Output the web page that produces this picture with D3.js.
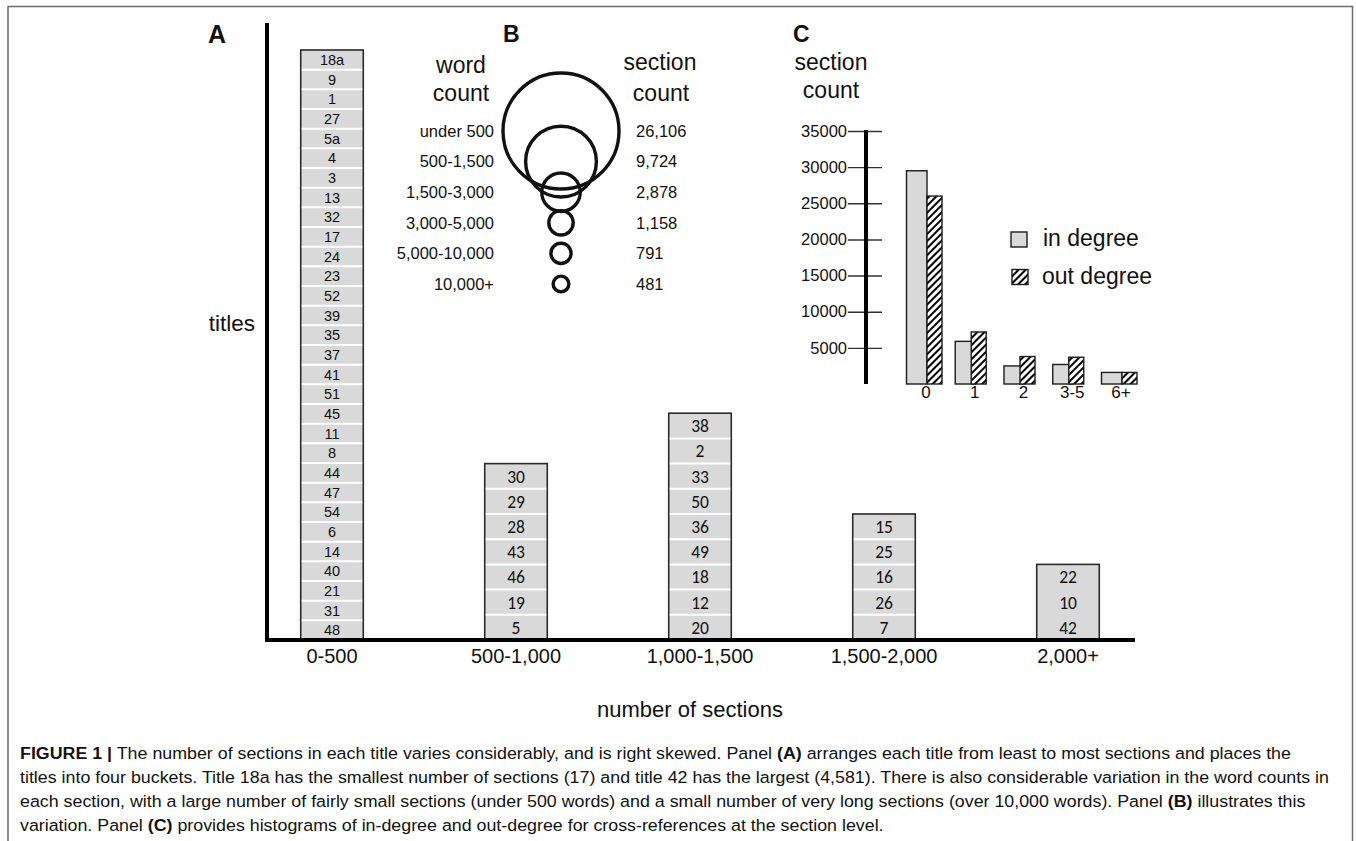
<!DOCTYPE html>
<html>
<head>
<meta charset="utf-8">
<script src="https://cdn.jsdelivr.net/npm/d3@7"></script>
<style>
  body { margin: 0; background: #fff; }
  svg text { font-family: "Liberation Sans", Arial, sans-serif; fill: #111; }
</style>
</head>
<body>
<div id="chart"></div>
<script>
// ---- panel A: titles per bucket of section counts (top of stack first)
const buckets = ['0-500', '500-1,000', '1,000-1,500', '1,500-2,000', '2,000+'];
const bucketTitles = [
  ['18a', '9', '1', '27', '5a', '4', '3', '13', '32', '17', '24', '23', '52', '39', '35',
   '37', '41', '51', '45', '11', '8', '44', '47', '54', '6', '14', '40', '21', '31', '48'],
  ['30', '29', '28', '43', '46', '19', '5'],
  ['38', '2', '33', '50', '36', '49', '18', '12', '20'],
  ['15', '25', '16', '26', '7'],
  ['22', '10', '42']
];

// ---- panel B: word count bins and section counts
const wordBins = ['under 500', '500-1,500', '1,500-3,000', '3,000-5,000', '5,000-10,000', '10,000+'];
const sectionCounts = [26106, 9724, 2878, 1158, 791, 481];

// ---- panel C: in / out degree histogram
const degreeBins = ['0', '1', '2', '3-5', '6+'];
const inDegree = [29500, 5900, 2500, 2700, 1600];
const outDegree = [26000, 7200, 3800, 3700, 1600];
const degreeTicks = [5000, 10000, 15000, 20000, 25000, 30000, 35000];

// ---- caption, one entry per printed line: [text, bold]
const captionLines = [
  [['FIGURE 1 |', true], [' The number of sections in each title varies considerably, and is right skewed. Panel ', false], ['(A)', true], [' arranges each title from least to most sections and places the', false]],
  [['titles into four buckets. Title 18a has the smallest number of sections (17) and title 42 has the largest (4,581). There is also considerable variation in the word counts in', false]],
  [['each section, with a large number of fairly small sections (under 500 words) and a small number of very long sections (over 10,000 words). Panel ', false], ['(B)', true], [' illustrates this', false]],
  [['variation. Panel ', false], ['(C)', true], [' provides histograms of in-degree and out-degree for cross-references at the section level.', false]]
];

const grey = '#d9d9d9';
const ink = '#1c1c1c';

const svg = d3.select('#chart').append('svg').attr('width', 1356).attr('height', 841);

// hatch for out degree
const defs = svg.append('defs');
const hatch = defs.append('pattern')
  .attr('id', 'hatch')
  .attr('patternUnits', 'userSpaceOnUse')
  .attr('width', 5).attr('height', 5)
  .attr('patternTransform', 'rotate(45)');
hatch.append('rect').attr('width', 5).attr('height', 5).attr('fill', '#fff');
hatch.append('line').attr('x1', 1).attr('y1', 0).attr('x2', 1).attr('y2', 5)
  .attr('stroke', '#000').attr('stroke-width', 2);

// frame (open at bottom)
svg.append('path')
  .attr('d', 'M8,845V6.5H1352.5V845')
  .attr('fill', 'none').attr('stroke', '#6b6b6b').attr('stroke-width', 1.5);

// ================= PANEL A =================
const baseY = 640;
const xA = d3.scaleBand().domain(buckets).range([240, 1160]).paddingInner(0.66).paddingOuter(0.33);
const rowH = i => i === 0 ? (baseY - 50) / bucketTitles[0].length : 25.2;
const separated = [true, true, true, true, false];

const gA = svg.append('g');
bucketTitles.forEach((titles, i) => {
  const n = titles.length;
  const yb = d3.scaleBand().domain(titles).range([baseY - n * rowH(i), baseY]);
  const x0 = xA(buckets[i]);
  const bw = xA.bandwidth();
  const g = gA.append('g');
  g.append('rect')
    .attr('x', x0).attr('y', yb.range()[0])
    .attr('width', bw).attr('height', n * rowH(i))
    .attr('fill', grey).attr('stroke', '#2a2a2a').attr('stroke-width', 1.6);
  if (separated[i]) {
    g.selectAll('line.sep')
      .data(titles.slice(1))
      .join('line')
      .attr('class', 'sep')
      .attr('x1', x0 + 1).attr('x2', x0 + bw - 1)
      .attr('y1', d => yb(d)).attr('y2', d => yb(d))
      .attr('stroke', '#fff').attr('stroke-width', 2);
  }
  g.selectAll('text')
    .data(titles)
    .join('text')
    .attr('x', x0 + bw / 2)
    .attr('y', d => yb(d) + yb.bandwidth() / 2)
    .attr('dy', '0.36em')
    .attr('text-anchor', 'middle')
    .style('font-family', i === 0 ? '"Liberation Sans", Arial, sans-serif' : 'Carlito, Lato, sans-serif')
    .style('font-size', i === 0 ? '14.5px' : '17.5px')
    .text(d => d);
});

// axes of A
svg.append('line').attr('x1', 267).attr('x2', 267).attr('y1', 23).attr('y2', 642)
  .attr('stroke', '#000').attr('stroke-width', 4);
svg.append('line').attr('x1', 265).attr('x2', 1135).attr('y1', baseY).attr('y2', baseY)
  .attr('stroke', '#000').attr('stroke-width', 4);

const axA = svg.append('g')
  .attr('transform', `translate(0,${baseY})`)
  .call(d3.axisBottom(xA).tickSize(0).tickPadding(9));
axA.select('.domain').remove();
axA.selectAll('text')
  .style('font-size', '20px')
  .style('font-family', '"Liberation Sans", Arial, sans-serif')
  .attr('fill', '#111');

svg.append('text').attr('x', 690).attr('y', 717).attr('text-anchor', 'middle')
  .style('font-size', '22px').text('number of sections');
svg.append('text').attr('x', 232).attr('y', 331).attr('text-anchor', 'middle')
  .style('font-size', '22.5px').text('titles');
svg.append('text').attr('x', 208).attr('y', 43)
  .style('font-size', '25px').style('font-weight', 'bold').text('A');

// ================= PANEL B =================
const yB = d3.scalePoint().domain(wordBins).range([131, 284]);
const rB = d3.scaleSqrt().domain([0, d3.max(sectionCounts)]).range([0, 58]);
const cxB = 561;

svg.append('text').attr('x', 503).attr('y', 42)
  .style('font-size', '23px').style('font-weight', 'bold').text('B');
svg.append('text').attr('x', 461).attr('y', 73).attr('text-anchor', 'middle')
  .style('font-size', '23px').text('word');
svg.append('text').attr('x', 461).attr('y', 101).attr('text-anchor', 'middle')
  .style('font-size', '23px').text('count');
svg.append('text').attr('x', 660).attr('y', 70).attr('text-anchor', 'middle')
  .style('font-size', '23px').text('section');
svg.append('text').attr('x', 661).attr('y', 101).attr('text-anchor', 'middle')
  .style('font-size', '23px').text('count');

const gB = svg.append('g');
gB.selectAll('circle')
  .data(wordBins)
  .join('circle')
  .attr('cx', cxB)
  .attr('cy', d => yB(d))
  .attr('r', (d, i) => rB(sectionCounts[i]))
  .attr('fill', 'none').attr('stroke', '#111').attr('stroke-width', 3.4);
gB.selectAll('text.bin')
  .data(wordBins)
  .join('text')
  .attr('class', 'bin')
  .attr('x', 494).attr('y', d => yB(d)).attr('dy', '0.35em')
  .attr('text-anchor', 'end')
  .style('font-size', '16.5px')
  .text(d => d);
gB.selectAll('text.cnt')
  .data(sectionCounts)
  .join('text')
  .attr('class', 'cnt')
  .attr('x', 636).attr('y', (d, i) => yB(wordBins[i])).attr('dy', '0.35em')
  .style('font-size', '16.5px')
  .text(d => d3.format(',')(d));

// ================= PANEL C =================
const yC = d3.scaleLinear().domain([0, 35000]).range([384, 131]);
const xC = d3.scalePoint().domain(degreeBins).range([927, 1122]);
const axisX = 866;

svg.append('text').attr('x', 793).attr('y', 42)
  .style('font-size', '23px').style('font-weight', 'bold').text('C');
svg.append('text').attr('x', 831).attr('y', 70).attr('text-anchor', 'middle')
  .style('font-size', '23px').text('section');
svg.append('text').attr('x', 831).attr('y', 98).attr('text-anchor', 'middle')
  .style('font-size', '23px').text('count');

const axC = svg.append('g')
  .attr('transform', `translate(${axisX},0)`)
  .call(d3.axisLeft(yC).tickValues(degreeTicks).tickFormat(d3.format('d')).tickSize(0).tickPadding(19));
axC.select('.domain').remove();
axC.selectAll('.tick line').attr('x1', -18).attr('x2', 16)
  .attr('stroke', '#333').attr('stroke-width', 1.4);
axC.selectAll('.tick text')
  .style('font-size', '16.5px')
  .style('font-family', '"Liberation Sans", Arial, sans-serif')
  .attr('fill', '#111');
svg.append('line').attr('x1', axisX).attr('x2', axisX).attr('y1', 130).attr('y2', 384)
  .attr('stroke', '#000').attr('stroke-width', 4);

const gC = svg.append('g');
gC.selectAll('rect.in')
  .data(degreeBins)
  .join('rect')
  .attr('class', 'in')
  .attr('x', d => xC(d) - 20.5)
  .attr('y', (d, i) => yC(inDegree[i]))
  .attr('width', 20.5)
  .attr('height', (d, i) => yC(0) - yC(inDegree[i]))
  .attr('fill', grey).attr('stroke', ink).attr('stroke-width', 1.4);
gC.selectAll('rect.out')
  .data(degreeBins)
  .join('rect')
  .attr('class', 'out')
  .attr('x', (d, i) => xC(d) - (i === 0 || i === 4 ? 0 : 4.5))
  .attr('y', (d, i) => yC(outDegree[i]))
  .attr('width', 15)
  .attr('height', (d, i) => yC(0) - yC(outDegree[i]))
  .attr('fill', 'url(#hatch)').attr('stroke', ink).attr('stroke-width', 1.4);
gC.selectAll('text.lab')
  .data(degreeBins)
  .join('text')
  .attr('class', 'lab')
  .attr('x', d => xC(d) - 1)
  .attr('y', 398)
  .attr('text-anchor', 'middle')
  .style('font-size', '17px')
  .text(d => d);

// legend
const legend = svg.append('g');
legend.append('rect').attr('x', 1011).attr('y', 232).attr('width', 16).attr('height', 15)
  .attr('fill', grey).attr('stroke', ink).attr('stroke-width', 1.4);
legend.append('text').attr('x', 1043).attr('y', 246).style('font-size', '23px').text('in degree');
legend.append('rect').attr('x', 1012).attr('y', 269.5).attr('width', 16).attr('height', 15)
  .attr('fill', 'url(#hatch)').attr('stroke', ink).attr('stroke-width', 1.4);
legend.append('text').attr('x', 1042).attr('y', 283.5).style('font-size', '23px').text('out degree');

// ================= CAPTION =================
const capY = [759, 783, 807, 831];
const capRows = svg.append('g').selectAll('text.cap')
  .data(captionLines)
  .join('text')
  .attr('class', 'cap')
  .attr('x', 0)
  .attr('y', 0)
  .style('font-size', '17px')
  .attr('fill', '#231f20');
capRows.selectAll('tspan')
  .data(d => d)
  .join('tspan')
  .style('font-weight', d => d[1] ? 'bold' : 'normal')
  .text(d => d[0]);
const fullLen = capRows.nodes()[1].getComputedTextLength();
const k = (1330 - 20) / fullLen;
capRows.attr('transform', (d, i) => `translate(20,${capY[i]}) scale(${k},1)`);
</script>
</body>
</html>
